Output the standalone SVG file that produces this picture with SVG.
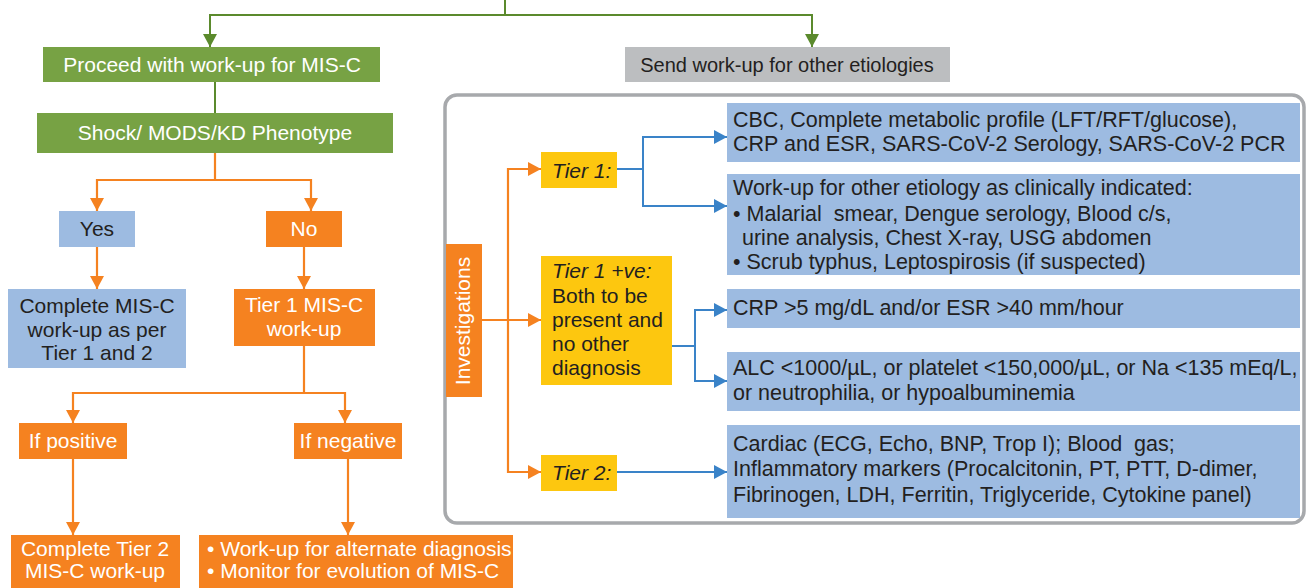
<svg xmlns="http://www.w3.org/2000/svg" width="1310" height="588" viewBox="0 0 1310 588">
<style>
text{font-family:"Liberation Sans",Arial,Helvetica,sans-serif;font-size:21px;}
.r{font-size:21.5px;}
.w{fill:#ffffff;}
.d{fill:#231f20;}
.c{text-anchor:middle;}
.i{font-style:italic;}
.green{fill:#77a244;}
.orange{fill:#f58220;}
.blue{fill:#9dbbe1;}
.yellow{fill:#fdc70f;}
.gray{fill:#bcbec0;}
.lg{fill:none;stroke:#5b8a2d;stroke-width:2;}
.lo{fill:none;stroke:#f58220;stroke-width:2.2;}
.lb{fill:none;stroke:#3a83c8;stroke-width:2;}
</style>
<defs>
<marker id="ag" markerUnits="userSpaceOnUse" markerWidth="14" markerHeight="14" refX="13" refY="7" orient="auto"><path d="M0,0 L13,7 L0,14 z" fill="#5b8a2d"/></marker>
<marker id="ao" markerUnits="userSpaceOnUse" markerWidth="14" markerHeight="14" refX="13" refY="7" orient="auto"><path d="M0,0 L13,7 L0,14 z" fill="#f58220"/></marker>
<marker id="ab" markerUnits="userSpaceOnUse" markerWidth="14" markerHeight="14" refX="13" refY="7" orient="auto"><path d="M0,0 L13,7 L0,14 z" fill="#3a83c8"/></marker>
</defs>
<rect width="1310" height="588" fill="#ffffff"/>

<g id="connectors">
<path class="lg" d="M505,0 V15"/>
<path class="lg" d="M505,15 H210 V47" marker-end="url(#ag)"/>
<path class="lg" d="M505,15 H812 V47" marker-end="url(#ag)"/>
<path class="lg" d="M215,82 V113"/>
<path class="lo" d="M215,153 V180 H97 V211" marker-end="url(#ao)"/>
<path class="lo" d="M215,180 H311 V211" marker-end="url(#ao)"/>
<path class="lo" d="M97,247 V289" marker-end="url(#ao)"/>
<path class="lo" d="M304,247 V289" marker-end="url(#ao)"/>
<path class="lo" d="M304,346 V393 H73 V423" marker-end="url(#ao)"/>
<path class="lo" d="M304,393 H345 V423" marker-end="url(#ao)"/>
<path class="lo" d="M73,459 V535" marker-end="url(#ao)"/>
<path class="lo" d="M348,459 V535" marker-end="url(#ao)"/>
<path class="lo" d="M482,320 H541" marker-end="url(#ao)"/>
<path class="lo" d="M508,320 V169 H541" marker-end="url(#ao)"/>
<path class="lo" d="M508,320 V472 H541" marker-end="url(#ao)"/>
<path class="lb" d="M617,169 H643 V137 H727" marker-end="url(#ab)"/>
<path class="lb" d="M643,169 V206 H727" marker-end="url(#ab)"/>
<path class="lb" d="M672,346 H695 V310 H727" marker-end="url(#ab)"/>
<path class="lb" d="M695,346 V381 H727" marker-end="url(#ab)"/>
<path class="lb" d="M617,472 H727" marker-end="url(#ab)"/>
</g>

<g id="proceed">
<rect class="green" x="43" y="47" width="337" height="35"/>
<text class="w c" x="212" y="72">Proceed with work-up for MIS-C</text>
</g>
<g id="shock">
<rect class="green" x="37" y="113" width="356" height="40"/>
<text class="w c" x="215" y="140">Shock/ MODS/KD Phenotype</text>
</g>
<g id="yes">
<rect class="blue" x="59" y="211" width="76" height="36"/>
<text class="d c" x="97" y="236">Yes</text>
</g>
<g id="no">
<rect class="orange" x="266" y="211" width="76" height="36"/>
<text class="w c" x="304" y="236">No</text>
</g>
<g id="complete-misc">
<rect class="blue" x="8" y="289" width="178" height="79"/>
<text class="d c" x="97" y="313">Complete MIS-C</text>
<text class="d c" x="97" y="337">work-up as per</text>
<text class="d c" x="97" y="360">Tier 1 and 2</text>
</g>
<g id="tier1-misc">
<rect class="orange" x="234" y="289" width="141" height="57"/>
<text class="w c" x="304" y="312">Tier 1 MIS-C</text>
<text class="w c" x="304" y="336">work-up</text>
</g>
<g id="if-positive">
<rect class="orange" x="19" y="423" width="108" height="36"/>
<text class="w c" x="73" y="448">If positive</text>
</g>
<g id="if-negative">
<rect class="orange" x="294" y="423" width="108" height="36"/>
<text class="w c" x="348" y="448">If negative</text>
</g>
<g id="complete-tier2">
<rect class="orange" x="11" y="535" width="169" height="53"/>
<text class="w c" x="95" y="556">Complete Tier 2</text>
<text class="w c" x="95" y="578">MIS-C work-up</text>
</g>
<g id="alternate">
<rect class="orange" x="199" y="535" width="314" height="53"/>
<text class="w" x="207" y="556">• Work-up for alternate diagnosis</text>
<text class="w" x="207" y="578">• Monitor for evolution of MIS-C</text>
</g>
<g id="send">
<rect class="gray" x="625" y="47" width="325" height="35"/>
<text class="d c" x="787" y="72" style="font-size:20px">Send work-up for other etiologies</text>
</g>

<g id="panel">
<rect x="445" y="95" width="859" height="428" rx="12" fill="none" stroke="#a7a9ac" stroke-width="3.5"/>
</g>
<g id="investigations">
<rect class="orange" x="446" y="244" width="36" height="153"/>
<text class="w c" transform="translate(470,321) rotate(-90)" x="0" y="0">Investigations</text>
</g>
<g id="tier1">
<rect class="yellow" x="541" y="152" width="76" height="36"/>
<text class="d i" x="552" y="178">Tier 1:</text>
</g>
<g id="tier1ve">
<rect class="yellow" x="541" y="256" width="131" height="129"/>
<text class="d i" x="552" y="278">Tier 1 +ve:</text>
<text class="d" x="552" y="303">Both to be</text>
<text class="d" x="552" y="327">present and</text>
<text class="d" x="552" y="351">no other</text>
<text class="d" x="552" y="375">diagnosis</text>
</g>
<g id="tier2">
<rect class="yellow" x="541" y="455" width="76" height="36"/>
<text class="d i" x="552" y="480">Tier 2:</text>
</g>
<g id="box-cbc">
<rect class="blue" x="727" y="103" width="573" height="59"/>
<text class="d r" x="733" y="127">CBC, Complete metabolic profile (LFT/RFT/glucose),</text>
<text class="d r" x="733" y="151">CRP and ESR, SARS-CoV-2 Serology, SARS-CoV-2 PCR</text>
</g>
<g id="box-other">
<rect class="blue" x="727" y="174" width="573" height="101"/>
<text class="d r" x="733" y="195">Work-up for other etiology as clinically indicated:</text>
<text class="d r" x="733" y="221" xml:space="preserve">• Malarial  smear, Dengue serology, Blood c/s,</text>
<text class="d r" x="742" y="245">urine analysis, Chest X-ray, USG abdomen</text>
<text class="d r" x="733" y="269">• Scrub typhus, Leptospirosis (if suspected)</text>
</g>
<g id="box-crp">
<rect class="blue" x="727" y="289" width="573" height="39"/>
<text class="d r" x="733" y="315">CRP &gt;5 mg/dL and/or ESR &gt;40 mm/hour</text>
</g>
<g id="box-alc">
<rect class="blue" x="727" y="352" width="573" height="59"/>
<text class="d r" x="733" y="375">ALC &lt;1000/µL, or platelet &lt;150,000/µL, or Na &lt;135 mEq/L,</text>
<text class="d r" x="733" y="400">or neutrophilia, or hypoalbuminemia</text>
</g>
<g id="box-cardiac">
<rect class="blue" x="727" y="425" width="573" height="93"/>
<text class="d r" x="733" y="451" xml:space="preserve">Cardiac (ECG, Echo, BNP, Trop I); Blood  gas;</text>
<text class="d r" x="733" y="476">Inflammatory markers (Procalcitonin, PT, PTT, D-dimer,</text>
<text class="d r" x="733" y="502">Fibrinogen, LDH, Ferritin, Triglyceride, Cytokine panel)</text>
</g>
</svg>
